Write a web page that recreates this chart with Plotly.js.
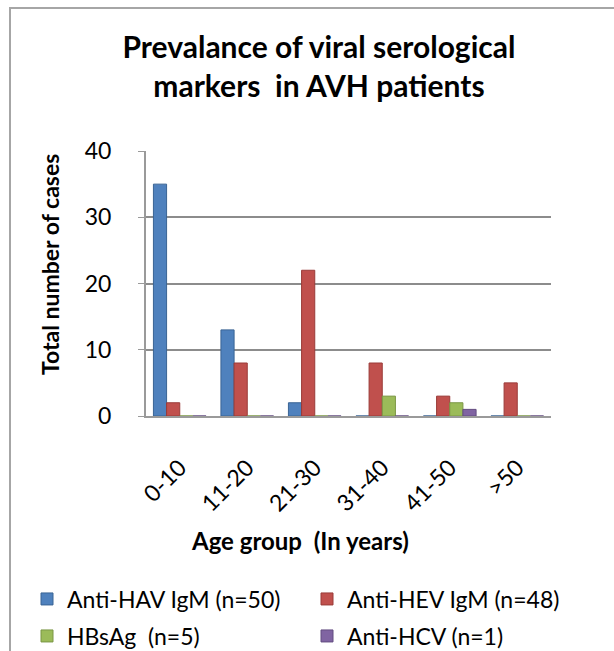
<!DOCTYPE html>
<html>
<head>
<meta charset="utf-8">
<script src="https://cdn.plot.ly/plotly-3.0.1.min.js"></script>
<style>
html,body{margin:0;padding:0;background:#fff;}
#wrap{position:relative;width:614px;height:651px;overflow:hidden;}
#frame{position:absolute;left:9px;top:7px;width:700px;height:700px;border-left:2px solid #a6a6a6;border-top:2px solid #a6a6a6;pointer-events:none;}
#chart{position:absolute;left:0;top:0;width:614px;height:651px;}
</style>
</head>
<body>
<div id="wrap">
<div id="chart"></div>
<div id="frame"></div>
</div>
<script>
const categories = ['0-10','11-20','21-30','31-40','41-50','>50'];
const antiHAV = [35, 13, 2, 0, 0, 0];
const antiHEV = [2, 8, 22, 8, 3, 5];
const hbsag   = [0, 0, 0, 3, 2, 0];
const antiHCV = [0, 0, 0, 0, 1, 0];
const seriesNames = ['Anti-HAV IgM (n=50)','Anti-HEV IgM (n=48)','HBsAg  (n=5)','Anti-HCV (n=1)'];
const yTicks = [0, 10, 20, 30, 40];
const yTitle = 'Total number of cases';
const xTitle = 'Age group  (In years)';

const colors = ['#4F81BD','#C0504D','#9BBB59','#8064A2'];
const edges = ['#3A6494','#9A3B38','#7A9644','#624C80'];
const vals = [antiHAV, antiHEV, hbsag, antiHCV];
const legendIds = ['legend','legend2','legend3','legend4'];

const FONT = 'Lato, "Open Sans", sans-serif';
const W = 614, H = 651;

const traces = vals.map((v, i) => ({
  type: 'bar',
  x: categories,
  y: v,
  name: seriesNames[i],
  legend: legendIds[i],
  marker: {color: colors[i], line: {color: edges[i], width: 1}},
  hoverinfo: 'skip'
}));

const PL = 146, PR = 551, PT = 151, PB = 416;
const pw = PR - PL, ph = PB - PT;

// legend anchor points (text start x, row centre y) in pixels
const legPos = [[67, 599], [347, 599], [67, 636], [347, 636]];
function legendAt(p) {
  return {
    xref: 'container', yref: 'container',
    x: (p[0] - 40) / W, xanchor: 'left',
    y: 1 - p[1] / H, yanchor: 'middle',
    orientation: 'v',
    font: {family: FONT, size: 23, color: '#000'},
    itemwidth: 30,
    bgcolor: 'rgba(0,0,0,0)',
    borderwidth: 0
  };
}

const layout = {
  width: W,
  height: H,
  margin: {l: PL, r: W - PR, t: PT, b: H - PB, autoexpand: false},
  paper_bgcolor: '#ffffff',
  plot_bgcolor: '#ffffff',
  font: {family: FONT, color: '#000'},
  barmode: 'group',
  bargap: 0.22,
  bargroupgap: 0,
  title: {
    text: '<b>Prevalance of viral serological<br>markers  in AVH patients</b>',
    font: {family: FONT, size: 30, color: '#000'},
    x: 319/W, xanchor: 'center',
    y: 1 - 58/H, yanchor: 'top'
  },
  xaxis: {
    type: 'category',
    tickangle: -45,
    tickfont: {family: FONT, size: 23, color: '#000'},
    ticks: '',
    showline: true,
    linecolor: '#9a9a9a',
    linewidth: 2,
    ticklabelstandoff: 27
  },
  yaxis: {
    range: [0, 40],
    tickvals: yTicks,
    ticktext: yTicks.map(String),
    tickfont: {family: FONT, size: 23, color: '#000'},
    showgrid: true,
    gridcolor: '#8c8c8c',
    gridwidth: 2,
    showline: true,
    linecolor: '#9a9a9a',
    linewidth: 2,
    ticks: 'outside',
    tickcolor: '#9a9a9a',
    ticklen: 6,
    ticklabelstandoff: 22,
    zeroline: false
  },
  annotations: [{
    text: '<b>' + yTitle + '</b>',
    xref: 'paper', yref: 'paper',
    x: (50 - PL) / pw, y: (PB - 265) / ph,
    xanchor: 'center', yanchor: 'middle',
    textangle: -90,
    showarrow: false,
    font: {family: FONT, size: 23, color: '#000'}
  }, {
    text: '<b>' + xTitle + '</b>',
    xref: 'paper', yref: 'paper',
    x: (300 - PL) / pw, y: (PB - 540) / ph,
    xanchor: 'center', yanchor: 'middle',
    showarrow: false,
    font: {family: FONT, size: 24, color: '#000'}
  }],
  legend: legendAt(legPos[0]),
  legend2: legendAt(legPos[1]),
  legend3: legendAt(legPos[2]),
  legend4: legendAt(legPos[3]),
  showlegend: true
};

Plotly.newPlot('chart', traces, layout, {displayModeBar: false, staticPlot: true});
</script>
</body>
</html>
